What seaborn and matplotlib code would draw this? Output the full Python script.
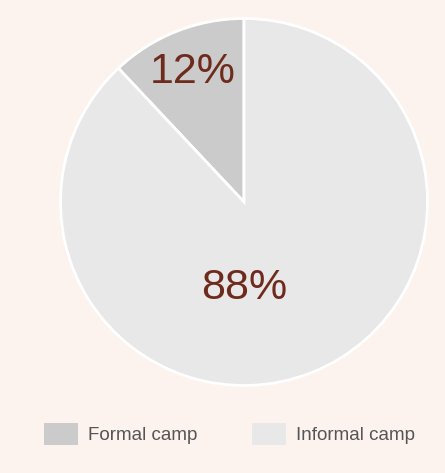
import matplotlib
matplotlib.use("Agg")
import matplotlib.pyplot as plt
from matplotlib.patches import Patch
import seaborn as sns

# camp type shares (%)
camp_types = ["Formal camp", "Informal camp"]
shares = [12, 88]
colors = ["#cbcbcb", "#e8e8e8"]

bg = "#fdf3ee"
label_color = "#6e2b1d"

sns.set_theme(style="white")
plt.rcParams["font.family"] = ["Liberation Sans", "DejaVu Sans"]

fig = plt.figure(figsize=(4.45, 4.73), dpi=100, facecolor=bg)
ax = fig.add_axes([60.5 / 445, 87.5 / 473, 367 / 445, 367 / 473])
ax.set_facecolor(bg)

wedges, texts, autotexts = ax.pie(
    shares, colors=colors, startangle=90, counterclock=True,
    autopct=lambda p: f"{p:.0f}%", pctdistance=0.76,
    wedgeprops=dict(edgecolor="white", linewidth=2),
    textprops=dict(color=label_color, fontsize=31),
)
# big slice label sits lower and centred
autotexts[1].set_position((0, -0.47))
ax.set_xlim(-1.0, 1.0)
ax.set_ylim(-1.0, 1.0)
ax.set_aspect("equal")

handles = [Patch(facecolor=c, edgecolor="none") for c in colors]
fig.legend(handles, camp_types, loc="center left",
           bbox_to_anchor=(44 / 445, 1 - 434 / 473), ncol=2, frameon=False,
           borderpad=0, borderaxespad=0, handlelength=1.8, handleheight=1.35,
           handletextpad=0.55, columnspacing=2.9,
           prop=dict(family=["Liberation Sans", "DejaVu Sans"], size=13.5),
           labelcolor="#555555")

fig.savefig("out.png", dpi=100, facecolor=bg)
